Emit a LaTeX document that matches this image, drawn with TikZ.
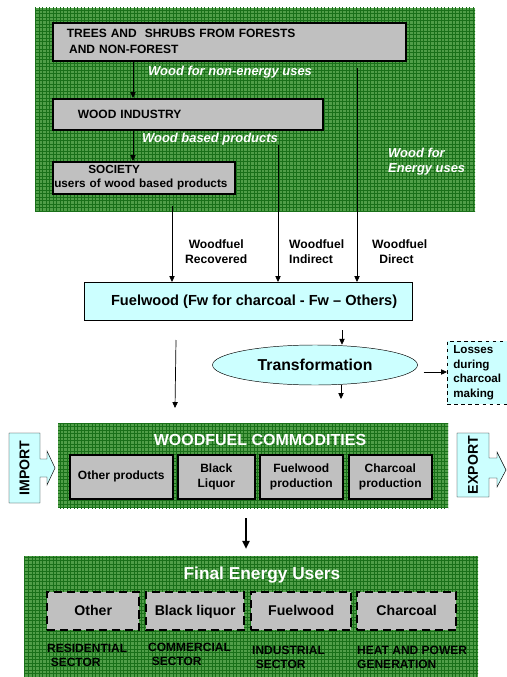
\documentclass[tikz,border=0pt]{standalone}
\usepackage{fontspec}
\setmainfont{Liberation Sans}
\usepackage{xcolor}
\usetikzlibrary{shapes,arrows.meta,positioning,calc,patterns}
\definecolor{forest}{RGB}{80,158,72}
\definecolor{forestline}{RGB}{25,112,25}
\definecolor{boxgray}{RGB}{192,192,192}
\definecolor{fuelcyan}{RGB}{204,255,255}
\newcommand\pxu{0.85pt}

\begin{document}
\begin{tikzpicture}[
    x=0.85pt, y=-0.85pt,
    panel/.style={fill=forest, postaction={pattern=grid, pattern color=forestline}},
    graybox/.style={draw, line width=1.3pt, fill=boxgray, anchor=north west, inner ysep=0pt,
        font=\bfseries\fontsize{10.2}{13.5}\selectfont, align=left},
    combox/.style={draw, line width=1.3pt, fill=boxgray, anchor=north west, inner sep=0pt,
        minimum height=44*\pxu, font=\bfseries\fontsize{10.2}{13}\selectfont, align=center},
    userbox/.style={draw, line width=2pt, dash pattern=on 7pt off 4pt, fill=boxgray, anchor=north west,
        inner sep=0pt, minimum height=38*\pxu, text height=9pt, text depth=2.5pt,
        font=\bfseries\fontsize{12}{14}\selectfont},
    flow/.style={white, font=\bfseries\itshape\fontsize{11}{13}\selectfont, inner sep=0pt},
    title/.style={white, font=\bfseries\fontsize{13.6}{16}\selectfont, inner sep=0pt},
    fuellabel/.style={font=\bfseries\fontsize{10.3}{13}\selectfont, align=left, inner sep=0pt, anchor=north west},
    sector/.style={font=\bfseries\fontsize{10.2}{12}\selectfont, align=left, inner sep=0pt, anchor=north west},
    arrow/.style={-{Triangle[length=5pt,width=4.5pt]}, line width=0.6pt},
    bigarrow/.style={-{Triangle[length=7pt,width=6pt]}, line width=1.8pt}
]
    \useasboundingbox (0,0) rectangle (506,677);

    % Green panels
    \path[panel] (35,8) rectangle (475,212);
    \path[panel] (58,423) rectangle (448,508);
    \path[panel] (24,556) rectangle (478,677);

    % Sources
    \node[graybox, text width=325*\pxu, inner xsep=14*\pxu, minimum height=38*\pxu] (trees) at (52,22)
        {TREES AND\ \ SHRUBS FROM FORESTS\\\hspace{2pt}AND NON-FOREST};
    \node[graybox, text width=220*\pxu, inner xsep=25*\pxu, minimum height=31*\pxu] (industry) at (52,98)
        {WOOD INDUSTRY};
    \node[graybox, text width=179*\pxu, inner xsep=1.5*\pxu, minimum height=32*\pxu,
        font=\bfseries\fontsize{10}{12}\selectfont] (society) at (52,161)
        {\hspace{29pt}SOCIETY\\\mbox{users of wood based products}};

    \node[flow, anchor=west] (nonenergy) at (148,72) {Wood for non-energy uses};
    \node[flow, anchor=east] (woodbased) at (278,139) {Wood based products};
    \node[flow, anchor=west, align=left] (energyuses) at (388,162) {Wood for\\Energy uses};

    \draw[arrow] (trees.south -| 133,0) -- (industry.north -| 133,0);
    \draw[arrow] (industry.south -| 133,0) -- (society.north -| 133,0);

    % Fuelwood
    \node[draw, fill=fuelcyan, minimum width=328*\pxu, minimum height=38*\pxu, anchor=north west,
        font=\bfseries\fontsize{12.4}{15}\selectfont] (fuelwood) at (84,282)
        {\hspace{10pt}Fuelwood (Fw for charcoal - Fw -- Others)};

    \coordinate (recovered) at (172,206);
    \coordinate (direct) at (357,68);
    \draw[arrow] (recovered) -- (fuelwood.north -| recovered);
    \draw[arrow] (woodbased.south east) -- (fuelwood.north -| woodbased.south east);
    \draw[arrow] (direct) -- (fuelwood.north -| direct);

    \node[fuellabel] (lrecovered) at (185,239) {\hspace{3pt}Woodfuel\\Recovered};
    \node[fuellabel] (lindirect) at (289,239) {Woodfuel\\Indirect};
    \node[fuellabel] (ldirect) at (372,239) {Woodfuel\\\hspace{6pt}Direct};

    % Transformation
    \node[draw, ellipse, fill=fuelcyan, minimum width=205*\pxu, minimum height=40*\pxu,
        font=\bfseries\fontsize{13.4}{16}\selectfont] (transf) at (315,365) {Transformation};
    \node[draw, dashed, fill=fuelcyan, anchor=north west, minimum width=60*\pxu, minimum height=63*\pxu,
        inner sep=2pt, align=left, font=\bfseries\fontsize{9.9}{12.3}\selectfont] (losses) at (447,341)
        {Losses\\during\\charcoal\\making};

    \coordinate (totransf) at (342,330);
    \coordinate (fwdown) at (176,340);
    \draw[arrow] (totransf) -- (transf.north -| totransf);
    \draw[arrow] (transf.east) ++(6,7) coordinate (lossstart) -- (losses.west |- lossstart);

    % Woodfuel commodities
    \node[title] (commod) at (260,440) {WOODFUEL COMMODITIES};
    \node[combox, minimum width=103*\pxu] (other) at (69,454) {Other products};
    \node[combox, minimum width=77*\pxu] (liquor) at (177,454) {Black\\Liquor};
    \node[combox, minimum width=83*\pxu] (fwprod) at (259,454) {Fuelwood\\production};
    \node[combox, minimum width=83*\pxu] (charprod) at (348,454) {Charcoal\\production};

    \draw[arrow] (fwdown) -- (175,408);
    \draw[arrow] (transf.south -| 341,0) -- (341,399);

    % Import / Export
    \draw[fill=fuelcyan] (9,433) -- (40,433) -- (40,459) -- (47,459) -- (47,451) -- (55,468)
        -- (47,485) -- (47,477) -- (40,477) -- (40,503) -- (9,503) -- cycle;
    \node[rotate=90, font=\bfseries\fontsize{12}{14}\selectfont] (import) at (24.5,468) {IMPORT};
    \draw[fill=fuelcyan] (457,433) -- (489,433) -- (489,458) -- (497,458) -- (497,452) -- (506,470)
        -- (497,487) -- (497,478) -- (489,478) -- (489,497) -- (457,497) -- cycle;
    \node[rotate=90, font=\bfseries\fontsize{12}{14}\selectfont] (export) at (473,465) {EXPORT};

    % Final energy users
    \coordinate (comout) at (246,518);
    \coordinate (usersin) at (246,549);
    \draw[bigarrow] (comout) -- (usersin);

    \node[title, font=\bfseries\fontsize{14.7}{17}\selectfont] (users) at (262,575) {Final Energy Users};
    \node[userbox, minimum width=92*\pxu] (uother) at (46,591) {Other};
    \node[userbox, minimum width=98*\pxu] (uliquor) at (145,591) {Black liquor};
    \node[userbox, minimum width=100*\pxu] (ufuel) at (250,591) {Fuelwood};
    \node[userbox, minimum width=99*\pxu] (uchar) at (356,591) {Charcoal};

    \node[sector] (residential) at (47,644) {RESIDENTIAL\\\hspace{3pt}SECTOR};
    \node[sector] (commercial) at (148,643) {COMMERCIAL\\\hspace{3pt}SECTOR};
    \node[sector] (industrial) at (252,646) {INDUSTRIAL\\\hspace{3pt}SECTOR};
    \node[sector] (heatpower) at (357,646) {HEAT AND POWER\\GENERATION};
\end{tikzpicture}
\end{document}
